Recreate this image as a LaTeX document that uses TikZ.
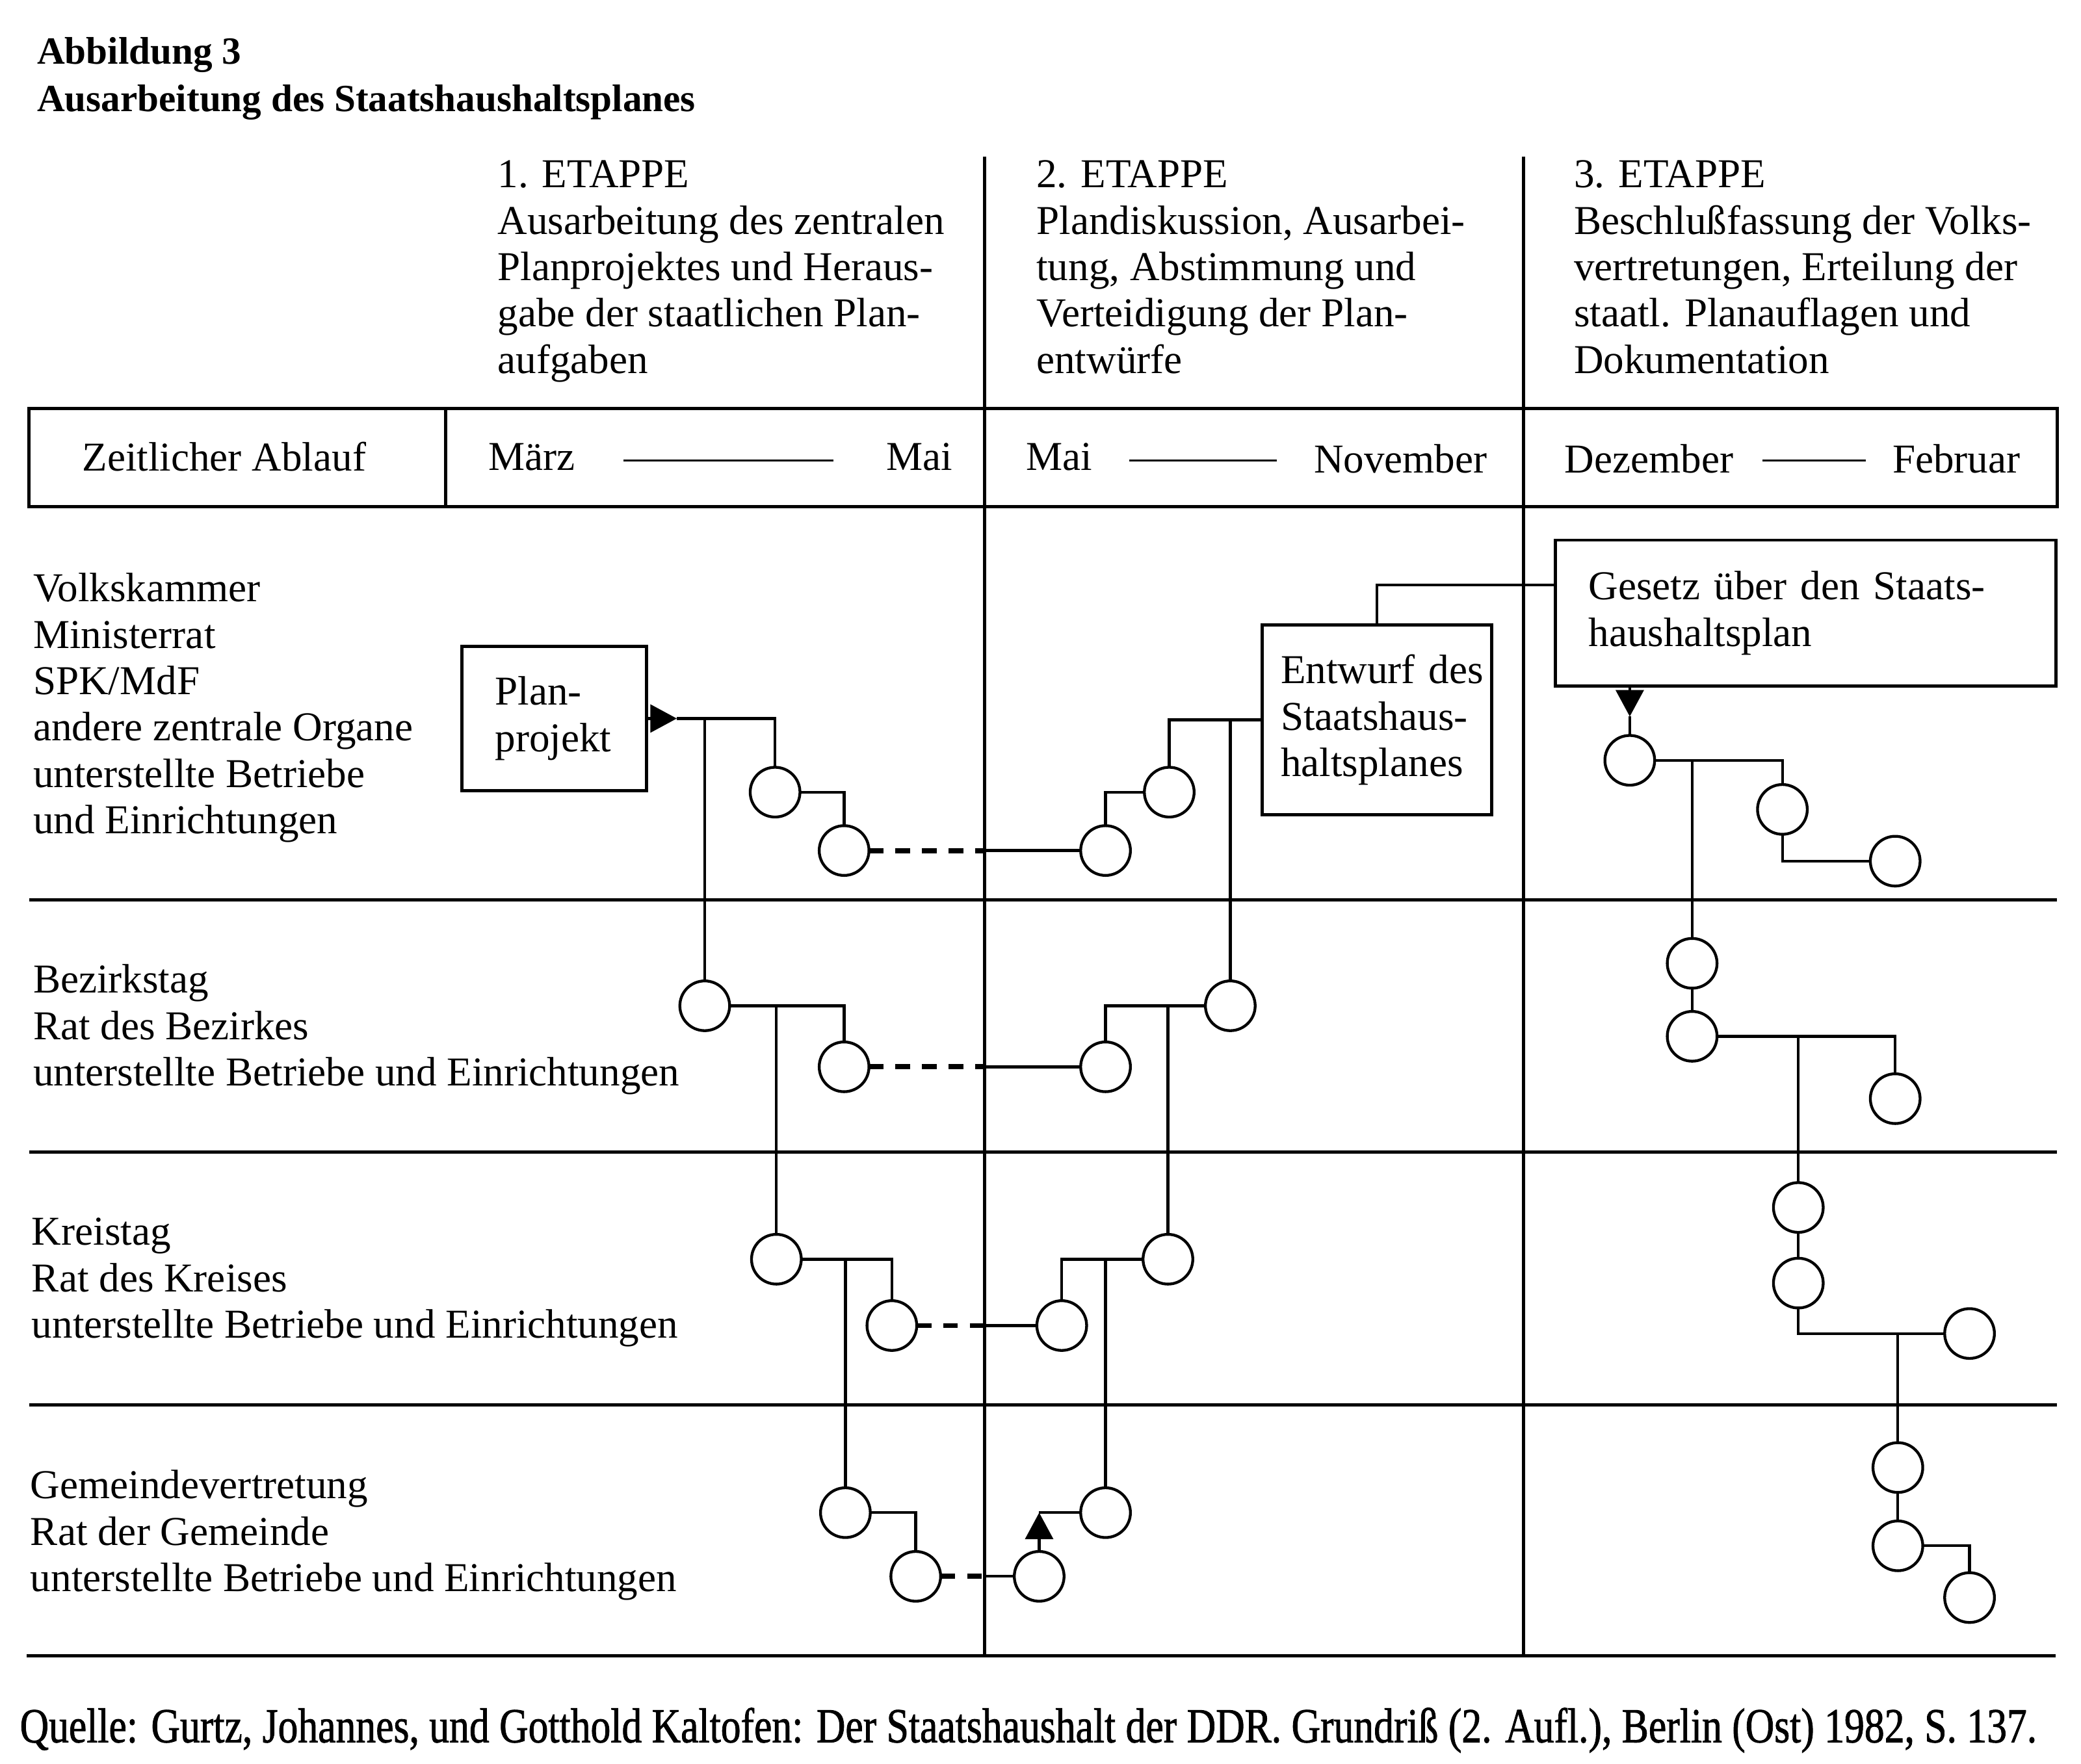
\documentclass[tikz,border=0pt]{standalone}
\usepackage{fontspec}
\setmainfont{Liberation Serif}
\newfontfamily\footfont[FakeBold=1.3]{Liberation Serif}
\usetikzlibrary{arrows.meta,calc}
\begin{document}
\begin{tikzpicture}[x=0.02cm,y=-0.02cm,
  every node/.style={inner sep=0pt,outer sep=0pt},
  txt/.style={anchor=north west,align=left,font=\fontsize{17.6}{19.9}\selectfont},
  ttl/.style={anchor=north west,font=\bfseries\fontsize{16.5}{19}\selectfont},
  gridline/.style={line width=1.4pt},
  conn/.style={line width=1.2pt},
  dconn/.style={line width=2.2pt,dash pattern=on 0.22cm off 0.18cm},
  dashline/.style={line width=1pt},
  stn/.style={circle,draw,line width=1.2pt,minimum size=0.75cm},
  tbox/.style={draw,line width=1.3pt,align=left,font=\fontsize{17.6}{19.9}\selectfont},
  tip/.style={-{Triangle[length=0.4cm,width=0.42cm]}}
]
\useasboundingbox (0,0) rectangle (1568,1329);

% titles
\node[ttl] (t1) at (28,28) {Abbildung 3};
\node[ttl] (t2) at (28,64) {Ausarbeitung des Staatshaushaltsplanes};

% grid
\coordinate (v1) at (742,118);
\coordinate (v1b) at (742,1248);
\coordinate (v2) at (1148,118);
\coordinate (v2b) at (1148,1248);
\draw[gridline] (v1) -- (v1b);
\draw[gridline] (v2) -- (v2b);
\draw[gridline] (22,308) rectangle (1550,382);
\draw[gridline] (336,308) -- (336,382);
\draw[gridline] (22,678) -- (1550,678);
\draw[gridline] (22,868) -- (1550,868);
\draw[gridline] (22,1059) -- (1550,1059);
\draw[gridline] (20,1248) -- (1549,1248);

% stage headers
\node[txt] (e1) at (375,121) {1. ETAPPE\\Ausarbeitung des zentralen\\Planprojektes und Heraus-\\gabe der staatlichen Plan-\\aufgaben};
\node[txt] (e2) at (781,121) {2. ETAPPE\\Plandiskussion, Ausarbei-\\tung, Abstimmung und\\Verteidigung der Plan-\\entwürfe};
\node[txt] (e3) at (1186,121) {3. ETAPPE\\Beschlußfassung der Volks-\\vertretungen, Erteilung der\\staatl. Planauflagen und\\Dokumentation};

% time row
\node[txt] (za) at (62,333) {Zeitlicher Ablauf};
\node[txt] (maerz) at (368,334) {März};
\node[txt] (mai1) at (668,334) {Mai};
\node[txt] (mai2) at (773,334) {Mai};
\node[txt] (nov) at (990,335) {November};
\node[txt] (dez) at (1179,335) {Dezember};
\node[txt] (feb) at (1426,335) {Februar};
\draw[dashline] (470,347) -- (628,347);
\draw[dashline] (851,347) -- (962,347);
\draw[dashline] (1328,347) -- (1406,347);

% row labels
\node[txt] (r1) at (25,432) {Volkskammer\\Ministerrat\\SPK/MdF\\andere zentrale Organe\\unterstellte Betriebe\\und Einrichtungen};
\node[txt] (r2) at (25,727) {Bezirkstag\\Rat des Bezirkes\\unterstellte Betriebe und Einrichtungen};
\node[txt] (r3) at (24,918) {Kreistag\\Rat des Kreises\\unterstellte Betriebe und Einrichtungen};
\node[txt] (r4) at (23,1108) {Gemeindevertretung\\Rat der Gemeinde\\unterstellte Betriebe und Einrichtungen};

% boxes
\node[tbox,inner xsep=0.5cm,text width=1.78cm,minimum height=2.18cm] (pp) at (417.5,541.5) {Plan-\\projekt};
\node[tbox,inner xsep=0.28cm,text width=2.9cm,minimum height=2.86cm] (ew) at (1037.5,542.5) {\mbox{Entwurf des}\\Staatshaus-\\haltsplanes};
\node[tbox,inner xsep=0.5cm,text width=6.54cm,minimum height=2.2cm] (gz) at (1360.5,462) {Gesetz über den Staats-\\haushaltsplan};

% stage 1 circles
\node[stn] (a1) at (584,597) {};
\node[stn] (a2) at (636,641) {};
\node[stn] (b1) at (531,758) {};
\node[stn] (b2) at (636,804) {};
\node[stn] (c1) at (585,949) {};
\node[stn] (c2) at (672,999) {};
\node[stn] (d1) at (637,1140) {};
\node[stn] (d2) at (690,1188) {};
% stage 2 circles
\node[stn] (k1) at (833,641) {};
\node[stn] (k2) at (881,597) {};
\node[stn] (j1) at (833,804) {};
\node[stn] (j2) at (927,758) {};
\node[stn] (h1) at (800,999) {};
\node[stn] (h2) at (880,949) {};
\node[stn] (g1) at (783,1188) {};
\node[stn] (g2) at (833,1140) {};
% stage 3 circles
\node[stn] (l1) at (1228,573) {};
\node[stn] (l2) at (1343,610) {};
\node[stn] (l3) at (1428,649) {};
\node[stn] (m1) at (1275,726) {};
\node[stn] (m2) at (1275,781) {};
\node[stn] (m3) at (1428,828) {};
\node[stn] (n1) at (1355,910) {};
\node[stn] (n2) at (1355,967) {};
\node[stn] (n3) at (1484,1005) {};
\node[stn] (p1) at (1430,1106) {};
\node[stn] (p2) at (1430,1165) {};
\node[stn] (p3) at (1484,1204) {};

% stage 1 connectors
\coordinate (pt) at ($(pp.east)+(23,0)$);
\draw[conn,tip] (pp.east) -- (pt);
\draw[conn] (pt) -| (a1.north);
\draw[conn] (b1.north) -- (b1 |- pt);
\draw[conn] (a1.east) -| (a2.north);
\draw[dconn] (a2.east) -- (a2 -| v1);
\draw[conn] (a2 -| v1) -- (k1.west);
\draw[conn] (b1.east) -| (b2.north);
\draw[conn] (c1.north) -- (c1 |- b1.east);
\draw[dconn] (b2.east) -- (b2 -| v1);
\draw[conn] (b2 -| v1) -- (j1.west);
\draw[conn] (c1.east) -| (c2.north);
\draw[conn] (d1.north) -- (d1 |- c1.east);
\draw[dconn] (c2.east) -- (c2 -| v1);
\draw[conn] (c2 -| v1) -- (h1.west);
\draw[conn] (d1.east) -| (d2.north);
\draw[dconn] (d2.east) -- (d2 -| v1);
\draw[conn] (d2 -| v1) -- (g1.west);

% stage 2 connectors
\draw[conn,tip] (g1.north) -- (g1 |- g2.west);
\draw[conn] (g1 |- g2.west) -- (g2.west);
\draw[conn] (g2.north) -- (g2 |- h2.west);
\draw[conn] (h1.north) |- (h2.west);
\draw[conn] (h2.north) -- (h2 |- j2.west);
\draw[conn] (j1.north) |- (j2.west);
\draw[conn] (j2.north) -- (j2 |- ew.west);
\draw[conn] (k2.north) |- (ew.west);
\draw[conn] (k1.north) |- (k2.west);
\draw[conn] (ew.north) |- ($(gz.west)+(0,-21)$);

% stage 3 connectors
\coordinate (gt) at ($(l1 |- gz.south)+(0,23)$);
\draw[conn,tip] (l1 |- gz.south) -- (gt);
\draw[conn] (gt) -- (l1.north);
\draw[conn] (l1.east) -| (l2.north);
\draw[conn] (m1.north) -- (m1 |- l1.east);
\draw[conn] (l2.south) |- (l3.west);
\draw[conn] (m1.south) -- (m2.north);
\draw[conn] (m2.east) -| (m3.north);
\draw[conn] (n1.north) -- (n1 |- m2.east);
\draw[conn] (n1.south) -- (n2.north);
\draw[conn] (n2.south) |- (n3.west);
\draw[conn] (p1.north) -- (p1 |- n3.west);
\draw[conn] (p1.south) -- (p2.north);
\draw[conn] (p2.east) -| (p3.north);

% source
\node[anchor=west] (src) at (15,1304) {\resizebox{30.4cm}{\height}{\footfont\fontsize{21}{24}\selectfont Quelle: Gurtz, Johannes, und Gotthold Kaltofen: Der Staatshaushalt der DDR. Grundriß (2. Aufl.), Berlin (Ost) 1982, S. 137.}};
\end{tikzpicture}
\end{document}
